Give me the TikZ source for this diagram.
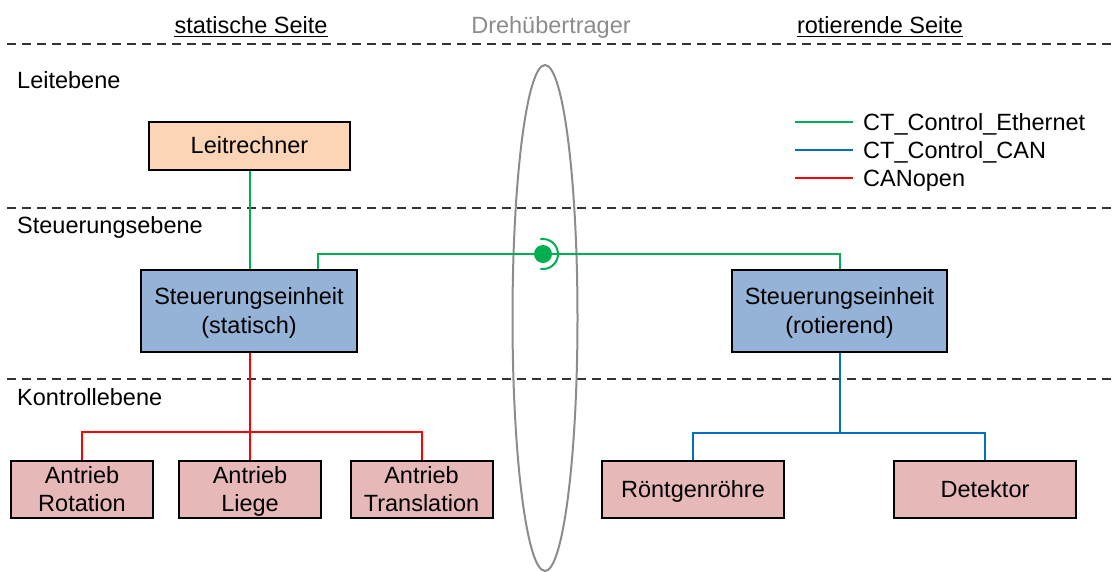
\documentclass[tikz,border=0pt]{standalone}
\usepackage{fontspec}
\setmainfont{Liberation Sans}
\definecolor{ethgreen}{HTML}{00B050}
\definecolor{canblue}{HTML}{0070C0}
\definecolor{canred}{HTML}{FF0000}
\definecolor{peach}{HTML}{FBD5B5}
\definecolor{steelbox}{HTML}{95B3D7}
\definecolor{rosebox}{HTML}{E6B9B8}
\definecolor{txtgray}{HTML}{8C8C8C}
\newcommand\bstrut{\rule[-6.5pt]{0pt}{28.5pt}}
\tikzset{
  box/.style={draw=black, line width=2, inner sep=0, align=center},
  leitbox/.style={box, fill=peach, minimum width=201, minimum height=48},
  ctrlbox/.style={box, fill=steelbox, minimum width=216, minimum height=82},
  devbox/.style={box, fill=rosebox, minimum width=142, minimum height=57},
  devboxwide/.style={box, fill=rosebox, minimum width=182, minimum height=57},
  eth/.style={draw=ethgreen, line width=2},
  canline/.style={draw=canblue, line width=2},
  openline/.style={draw=canred, line width=2},
  layerline/.style={draw=black!80, line width=1.4, dash pattern=on 9pt off 6pt},
  lbl/.style={inner sep=0, anchor=base west},
  hdr/.style={inner sep=0, anchor=base},
}
\begin{document}
\begin{tikzpicture}[x=1pt, y=-1pt, font=\fontsize{23.5}{28.5}\selectfont]
\useasboundingbox (0,0) rectangle (1112,571);

% headers
\node[hdr] (h1) at (251,33) {statische Seite};
\node[hdr, text=txtgray] (h2) at (551,33) {Drehübertrager};
\node[hdr] (h3) at (880,33) {rotierende Seite};
\draw[line width=1.3] ([yshift=-3.5pt]h1.base west) -- ([yshift=-3.5pt]h1.base east);
\draw[line width=1.3] ([yshift=-3.5pt]h3.base west) -- ([yshift=-3.5pt]h3.base east);

% layer separators
\draw[layerline] (7,44) -- (1112,44);
\draw[layerline] (7,208) -- (1112,208);
\draw[layerline] (7,379) -- (1112,379);

% layer labels
\node[lbl] (L1) at (17,88) {Leitebene};
\node[lbl] (L2) at (17,233) {Steuerungsebene};
\node[lbl] (L3) at (17,405) {Kontrollebene};

% rotary joint
\draw[txtgray, line width=2] (545,318) ellipse [x radius=32.5, y radius=253];

% nodes
\node[leitbox] (leit) at (249.5,146) {\bstrut Leitrechner};
\node[ctrlbox] (stat) at (249,311) {\bstrut Steuerungseinheit\\\bstrut (statisch)};
\node[ctrlbox, minimum width=215] (rot) at (839.5,311) {\bstrut Steuerungseinheit\\\bstrut (rotierend)};
\node[devbox] (a1) at (82,489.5) {\bstrut Antrieb\\\bstrut Rotation};
\node[devbox] (a2) at (250,489.5) {\bstrut Antrieb\\\bstrut Liege};
\node[devbox] (a3) at (421.5,489.5) {\bstrut Antrieb\\\bstrut Translation};
\node[devboxwide] (r1) at (693,489.5) {\bstrut Röntgenröhre};
\node[devboxwide] (r2) at (985,489.5) {\bstrut Detektor};

% Ethernet
\coordinate (gL) at (318,254);
\draw[eth] (leit.south) -- (stat.north -| leit.south);
\draw[eth] (stat.north -| gL) -- (gL) -| (rot.north);
\node[circle, fill=ethgreen, inner sep=0, minimum size=18] (coup) at (543,254) {};
\draw[ethgreen, line width=2] ([shift={(100:15)}]coup.center) arc (100:-100:15);

% CANopen
\coordinate (rb) at (250,432);
\draw[openline] (stat.south -| a2.north) -- (rb);
\draw[openline] (a1.north) |- (rb) -| (a3.north);
\draw[openline] (a2.north) -- (rb);

% CT_Control_CAN
\coordinate (bb) at (839.5,433);
\draw[canline] (rot.south) -- (bb);
\draw[canline] (r1.north) |- (bb) -| (r2.north);

% legend
\coordinate (e1a) at (795,122); \coordinate (e1b) at (853,122);
\coordinate (e2a) at (795,150); \coordinate (e2b) at (853,150);
\coordinate (e3a) at (795,178); \coordinate (e3b) at (853,178);
\draw[eth] (e1a) -- (e1b);
\draw[canline] (e2a) -- (e2b);
\draw[openline] (e3a) -- (e3b);
\node[lbl] (t1) at (863,130.5) {CT\_Control\_Ethernet};
\node[lbl] (t2) at (863,158.5) {CT\_Control\_CAN};
\node[lbl] (t3) at (863,186.5) {CANopen};
\end{tikzpicture}
\end{document}
